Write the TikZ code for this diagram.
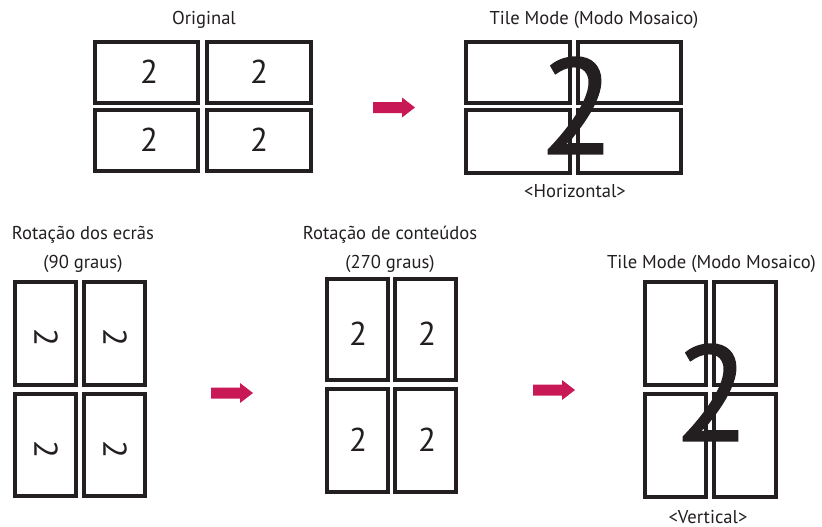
\documentclass[tikz,border=0pt]{standalone}
\usepackage{fontspec}
\setmainfont{PT Sans}
\newfontfamily\bigdigit[FakeBold=1.2]{PT Sans}
\definecolor{ink}{HTML}{231F20}
\definecolor{lgred}{RGB}{200,24,86}
\newcommand\screen[5]{\node[scr, minimum width={#4-#2-4}, minimum height={#5-#3-4}] (#1) at ({(#2+#4)/2},{(#3+#5)/2}) {};}
\newcommand\redarrow[3]{%
  \coordinate (#1) at (#2,#3);
  \fill[lgred] (#1) ++(0,-5.5) -- ++(29,0) -- ++(0,-4.5) -- ++(13,10) -- ++(-13,10) -- ++(0,-4.5) -- ++(-29,0) -- cycle;}
\begin{document}
\begin{tikzpicture}[x=1pt,y=-1pt,
  scr/.style={draw=ink, line width=4pt, inner sep=0pt, fill=white},
  lbl/.style={text=ink, font=\fontsize{18.6}{20}\selectfont, inner sep=0pt, anchor=base},
  dig/.style={text=ink, font=\fontsize{33}{36}\selectfont, inner sep=0pt},
  big/.style={text=ink, font=\bigdigit\fontsize{136}{140}\selectfont, inner sep=0pt, text depth=0pt}]
\useasboundingbox (0,0) rectangle (822,527);
% Original
\node[lbl] (lOrig) at (204,25) {Original};
\screen{o1}{93}{40}{200}{105}
\screen{o2}{205}{40}{313}{105}
\screen{o3}{93}{108}{200}{173}
\screen{o4}{205}{108}{313}{173}
\node[dig] (do1) at (149,71.5) {2};
\node[dig] (do2) at (259,71.5) {2};
\node[dig] (do3) at (149,140) {2};
\node[dig] (do4) at (259,140) {2};
\redarrow{a1}{373}{107.5}
% Tile horizontal
\node[lbl] (lTileH) at (594,25) {Tile Mode (Modo Mosaico)};
\screen{h1}{464}{40}{572}{105}
\screen{h2}{576}{40}{683}{105}
\screen{h3}{464}{108}{572}{175}
\screen{h4}{576}{108}{683}{175}
\node[big] (dH) at (577,105.5) {2};
\node[lbl] (lHor) at (575,197) {<Horizontal>};
% Screen rotation
\node[lbl] (lRot1) at (83,239) {Rotação dos ecrãs};
\node[lbl] (lRot1b) at (83,268) {(90 graus)};
\screen{l1}{13}{280}{78}{387}
\screen{l2}{82}{280}{147}{387}
\screen{l3}{13}{392}{78}{498}
\screen{l4}{82}{392}{147}{498}
\node[dig, rotate=-90] (dl1) at (46,337) {2};
\node[dig, rotate=-90] (dl2) at (115,337) {2};
\node[dig, rotate=-90] (dl3) at (46,449) {2};
\node[dig, rotate=-90] (dl4) at (115,449) {2};
\redarrow{a2}{211}{393}
% Content rotation
\node[lbl] (lRot2) at (390,239) {Rotação de conteúdos};
\node[lbl] (lRot2b) at (390,268) {(270 graus)};
\screen{m1}{325}{277}{390}{382}
\screen{m2}{393}{277}{458}{382}
\screen{m3}{325}{387}{390}{494}
\screen{m4}{393}{387}{458}{494}
\node[dig] (dm1) at (358,333.5) {2};
\node[dig] (dm2) at (427,333.5) {2};
\node[dig] (dm3) at (358,440) {2};
\node[dig] (dm4) at (427,440) {2};
\redarrow{a3}{533}{390}
% Tile vertical
\node[lbl] (lTileV) at (711.5,268) {Tile Mode (Modo Mosaico)};
\screen{v1}{643}{280}{708}{387}
\screen{v2}{712}{280}{778}{387}
\screen{v3}{643}{392}{708}{499}
\screen{v4}{712}{392}{778}{499}
\node[big] (dV) at (712,392.5) {2};
\node[lbl] (lVer) at (708,523) {<Vertical>};
\end{tikzpicture}
\end{document}
